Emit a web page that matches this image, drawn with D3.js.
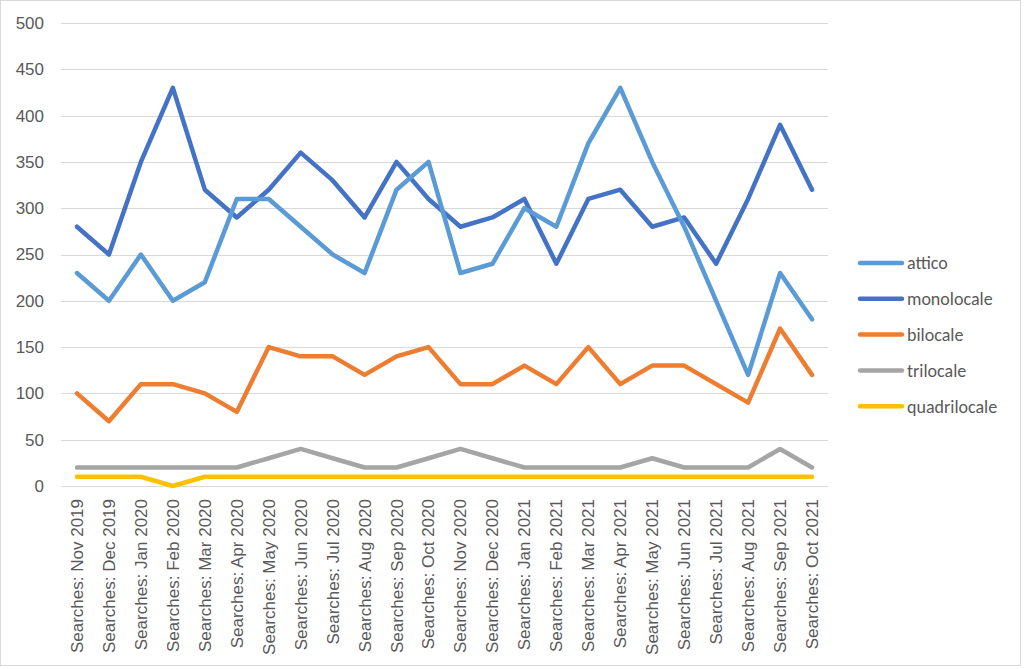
<!DOCTYPE html>
<html>
<head>
<meta charset="utf-8">
<script src="https://cdn.jsdelivr.net/npm/d3@7"></script>
<style>
	body { margin: 0; background: #fff; }
	svg { display: block; font-family: Carlito, "Liberation Sans", "Open Sans", sans-serif; }
</style>
</head>
<body>
<svg id="chart"></svg>
<script>
const months = [
	'Nov 2019', 'Dec 2019', 'Jan 2020', 'Feb 2020', 'Mar 2020', 'Apr 2020',
	'May 2020', 'Jun 2020', 'Jul 2020', 'Aug 2020', 'Sep 2020', 'Oct 2020',
	'Nov 2020', 'Dec 2020', 'Jan 2021', 'Feb 2021', 'Mar 2021', 'Apr 2021',
	'May 2021', 'Jun 2021', 'Jul 2021', 'Aug 2021', 'Sep 2021', 'Oct 2021',
];
const categories = months.map(m => `Searches: ${m}`);

const attico = [230, 200, 250, 200, 220, 310, 310, 280, 250, 230, 320, 350, 230, 240, 300, 280, 370, 430, 350, 280, 200, 120, 230, 180];
const monolocale = [280, 250, 350, 430, 320, 290, 320, 360, 330, 290, 350, 310, 280, 290, 310, 240, 310, 320, 280, 290, 240, 310, 390, 320];
const bilocale = [100, 70, 110, 110, 100, 80, 150, 140, 140, 120, 140, 150, 110, 110, 130, 110, 150, 110, 130, 130, 110, 90, 170, 120];
const trilocale = [20, 20, 20, 20, 20, 20, 30, 40, 30, 20, 20, 30, 40, 30, 20, 20, 20, 20, 30, 20, 20, 20, 40, 20];
const quadrilocale = [10, 10, 10, 0, 10, 10, 10, 10, 10, 10, 10, 10, 10, 10, 10, 10, 10, 10, 10, 10, 10, 10, 10, 10];

const seriesNames = ['attico', 'monolocale', 'bilocale', 'trilocale', 'quadrilocale'];
const seriesValues = [attico, monolocale, bilocale, trilocale, quadrilocale];
const seriesColors = ['#5b9bd5', '#4472c4', '#ed7d31', '#a5a5a5', '#ffc000'];
const yTicks = [0, 50, 100, 150, 200, 250, 300, 350, 400, 450, 500];

const width = 1024;
const height = 669;
const plot = { left: 61, right: 828, top: 23, bottom: 486 };

const svg = d3.select('#chart')
	.attr('width', width)
	.attr('height', height);

svg.append('rect')
	.attr('x', 0.5)
	.attr('y', 0.5)
	.attr('width', 1020)
	.attr('height', 665)
	.attr('fill', '#fff')
	.attr('stroke', '#d9d9d9');

const x = d3.scaleBand()
	.domain(categories)
	.range([plot.left, plot.right]);

const y = d3.scaleLinear()
	.domain([0, 500])
	.range([plot.bottom, plot.top]);

// gridlines
svg.append('g')
	.selectAll('line')
	.data(yTicks)
	.enter()
	.append('line')
	.attr('x1', plot.left)
	.attr('x2', plot.right)
	.attr('y1', d => Math.round(y(d)) + 0.5)
	.attr('y2', d => Math.round(y(d)) + 0.5)
	.attr('stroke', '#d9d9d9')
	.attr('stroke-width', 1);

// y axis labels
const yAxis = svg.append('g')
	.attr('transform', `translate(${plot.left - 17},0)`)
	.call(d3.axisLeft(y).tickValues(yTicks).tickSize(0).tickPadding(0));
yAxis.select('.domain').remove();
yAxis.selectAll('text')
	.attr('fill', '#595959')
	.attr('font-size', 17)
	.attr('font-family', null);

// x axis labels
const xAxis = svg.append('g')
	.attr('transform', `translate(0,${plot.bottom})`)
	.call(d3.axisBottom(x).tickSize(0).tickPadding(0));
xAxis.select('.domain').remove();
xAxis.selectAll('text')
	.attr('fill', '#595959')
	.attr('font-size', 17)
	.attr('font-family', null)
	.attr('text-anchor', 'end')
	.attr('dy', '0.35em')
	.attr('transform', 'translate(0,13) rotate(-90)')
	.attr('x', 0)
	.attr('y', 0);

const line = d3.line()
	.x((d, i) => x(categories[i]) + x.bandwidth() / 2)
	.y(d => y(d));

// draw bottom to top so the first series lies on top like in the original
const order = [4, 3, 2, 1, 0];
svg.append('g')
	.selectAll('path')
	.data(order)
	.enter()
	.append('path')
	.attr('d', i => line(seriesValues[i]))
	.attr('fill', 'none')
	.attr('stroke', i => seriesColors[i])
	.attr('stroke-width', 4.5)
	.attr('stroke-linejoin', 'round')
	.attr('stroke-linecap', 'round');

// legend
const legend = svg.append('g')
	.attr('transform', 'translate(860,263)');
const items = legend.selectAll('g')
	.data(seriesNames)
	.enter()
	.append('g')
	.attr('transform', (d, i) => `translate(0,${i * 35.8})`);
items.append('line')
	.attr('x1', 0)
	.attr('x2', 42)
	.attr('y1', 0)
	.attr('y2', 0)
	.attr('stroke', (d, i) => seriesColors[i])
	.attr('stroke-width', 4.5)
	.attr('stroke-linecap', 'round');
items.append('text')
	.attr('x', 47)
	.attr('y', 0)
	.attr('dy', '0.35em')
	.attr('fill', '#595959')
	.attr('font-size', 18)
	.text(d => d);
</script>
</body>
</html>
